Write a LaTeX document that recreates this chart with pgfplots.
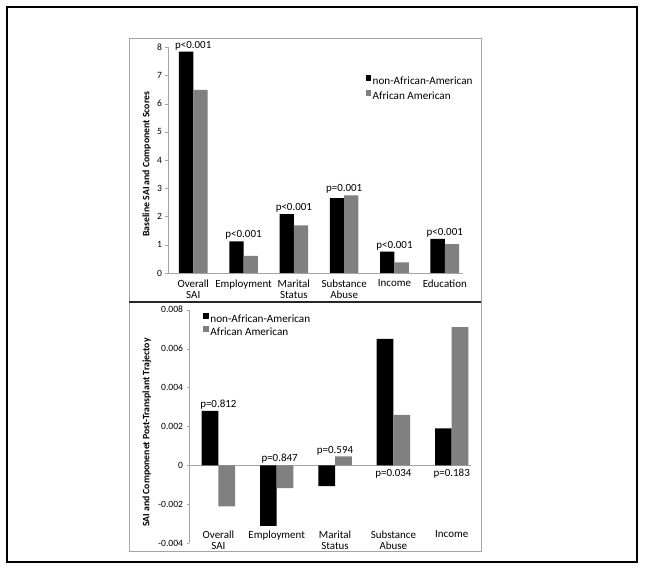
\documentclass[border=0pt]{standalone}
\usepackage{pgfplots}
\pgfplotsset{compat=1.18}
\usepackage{fontspec}
\setmainfont{Carlito}
\definecolor{barg}{RGB}{128,128,128}
\definecolor{axg}{RGB}{165,165,165}
\begin{document}
\begin{tikzpicture}
\useasboundingbox (0bp,0bp) rectangle (646bp,570bp);
\fill[white] (0bp,0bp) rectangle (646bp,570bp);
\draw[line width=2.5bp] (7bp,8bp) rectangle (637bp,563bp);
\draw[draw=axg, line width=0.8bp] (129bp,19bp) rectangle (481bp,532bp);
\draw[line width=1.4bp, black!85] (129bp,268bp) -- (481bp,268bp);

% ---------------- top panel ----------------
\begin{axis}[
  at={(168.1bp,297bp)}, anchor=south west,
  scale only axis, width=294.8bp, height=225.7bp,
  xmin=-0.5, xmax=5.36, ymin=0, ymax=8,
  ybar=0pt, bar width=14.3bp,
  axis y line*=left, axis x line*=bottom,
  axis line style={draw=axg, line width=0.7bp},
  tick align=outside, major tick length=2.7bp,
  ytick={0,1,2,3,4,5,6,7,8},
  y tick style={draw=axg},
  x tick style={draw=none},
  xtick={0,1,2,3,4,5},
  xticklabels={{Overall\\SAI},Employment,{Marital\\Status},{Substance\\Abuse},Income,Education},
  xticklabel style={align=center, font=\fontsize{11}{11.3}\selectfont, yshift=-0.5bp},
  yticklabel style={font=\fontsize{9.6}{10}\selectfont},
  /pgf/number format/assume math mode=true,
  every axis y label/.style={at={(axis description cs:-0.0726,0.482)}, anchor=center, rotate=90,
     font=\bfseries\fontsize{9.8}{11}\selectfont},
  ylabel={Baseline SAI and Component Scores},
  legend style={at={(axis description cs:0.669,0.878)}, anchor=north west, draw=none, fill=none,
     font=\fontsize{11.2}{12}\selectfont, row sep=2.5bp, inner sep=0pt,
     nodes={inner sep=1.5bp}},
  legend cell align=left,
  clip=false,
]
\addplot[fill=black, draw=none,
  legend image code/.code={\fill[black] (0bp,0.5bp) rectangle (5.7bp,6.2bp);}]
  coordinates {(0,7.85) (1,1.12) (2,2.09) (3,2.65) (4,0.76) (5,1.21)};
\addplot[fill=barg, draw=none,
  legend image code/.code={\fill[barg] (0bp,0.5bp) rectangle (5.7bp,6.2bp);}]
  coordinates {(0,6.49) (1,0.61) (2,1.69) (3,2.75) (4,0.38) (5,1.02)};
\legend{non-African-American, African American}
\begin{scope}[every node/.style={font=\fontsize{11}{12}\selectfont, anchor=south, inner sep=1.5bp}]
\node at (axis cs:0,7.85) {p<0.001};
\node at (axis cs:1,1.12) {p<0.001};
\node at (axis cs:2,2.09) {p<0.001};
\node at (axis cs:3,2.75) {p=0.001};
\node at (axis cs:4,0.76) {p<0.001};
\node at (axis cs:5,1.21) {p<0.001};
\end{scope}
\end{axis}

% ---------------- bottom panel ----------------
\begin{axis}[
  at={(189.2bp,26.7bp)}, anchor=south west,
  scale only axis, width=281.8bp, height=233.6bp,
  xmin=-0.5, xmax=4.33, ymin=-0.004, ymax=0.008,
  ybar=0pt, bar width=16.7bp,
  axis y line*=left, axis x line*=bottom,
  y axis line style={draw=axg, line width=0.7bp},
  x axis line style={draw=none},
  tick align=outside, major tick length=2.7bp,
  ytick={-0.004,-0.002,0,0.002,0.004,0.006,0.008},
  yticklabels={-0.004,-0.002,0,0.002,0.004,0.006,0.008},
  scaled y ticks=false,
  extra y ticks={0}, extra y tick labels={},
  extra y tick style={grid=major, major grid style={draw=axg, line width=0.7bp}},
  y tick style={draw=axg},
  x tick style={draw=none},
  xtick={0,1,2,3,4},
  xticklabels={{Overall\\SAI},Employment,{Marital\\Status},{Substance\\Abuse},Income},
  xticklabel style={align=center, font=\fontsize{11}{11.3}\selectfont, yshift=19bp},
  yticklabel style={font=\fontsize{9.6}{10}\selectfont},
  every axis y label/.style={at={(axis description cs:-0.151,0.474)}, anchor=center, rotate=90,
     font=\bfseries\fontsize{9.8}{11}\selectfont},
  ylabel={SAI and Componenet Post-Transplant Trajectoy},
  legend style={at={(axis description cs:0.049,0.985)}, anchor=north west, draw=none, fill=none,
     font=\fontsize{11.2}{12}\selectfont, row sep=0.5bp, inner sep=0pt,
     nodes={inner sep=1.5bp}},
  legend cell align=left,
  clip=false,
]
\addplot[fill=black, draw=none,
  legend image code/.code={\fill[black] (0bp,0.5bp) rectangle (5.7bp,6.2bp);}]
  coordinates {(0,0.0028) (1,-0.0031) (2,-0.00106) (3,0.0065) (4,0.0019)};
\addplot[fill=barg, draw=none,
  legend image code/.code={\fill[barg] (0bp,0.5bp) rectangle (5.7bp,6.2bp);}]
  coordinates {(0,-0.0021) (1,-0.00116) (2,0.00046) (3,0.0026) (4,0.0071)};
\legend{non-African-American, African American}
\begin{scope}[every node/.style={font=\fontsize{11}{12}\selectfont, inner sep=1.5bp}]
\node[anchor=south] at (axis cs:0,0.0028) {p=0.812};
\node[anchor=south] at (axis cs:1.05,0) {p=0.847};
\node[anchor=south] at (axis cs:2,0.00046) {p=0.594};
\node[anchor=north] at (axis cs:3,-0.0001) {p=0.034};
\node[anchor=north] at (axis cs:4,-0.0001) {p=0.183};
\end{scope}
\end{axis}
\end{tikzpicture}
\end{document}
